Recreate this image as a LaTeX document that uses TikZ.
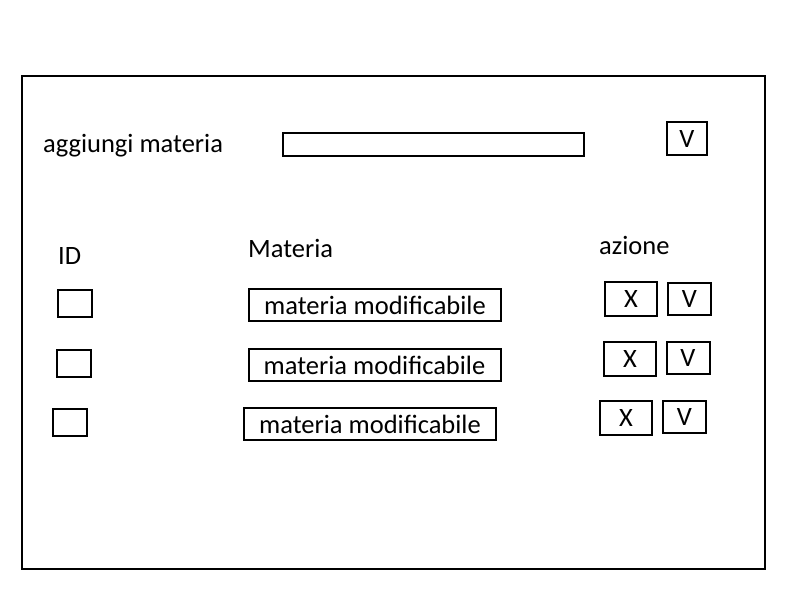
\documentclass[tikz,border=0pt]{standalone}
\usepackage{fontspec}
\setmainfont{Carlito}
\begin{document}
\begin{tikzpicture}
    [
        x=1pt, y=-1pt,
        every node/.style={font=\fontsize{26.5}{30}\selectfont},
        box/.style={rectangle, draw, line width=2pt, inner sep=0pt},
        idbox/.style={box, minimum width=34pt, minimum height=27pt},
        matbox/.style={box, minimum width=252pt, minimum height=32pt},
        xbox/.style={box, minimum width=52pt, minimum height=34pt},
        vbox/.style={box, minimum width=43pt, minimum height=32pt},
        label/.style={anchor=base west, inner sep=0pt},
    ]
    \useasboundingbox (0,0) rectangle (800,600);
    \node (frame) at (393.5, 322.5) [
        box,
        minimum width=743pt,
        minimum height=493pt,
    ] {};

    \node (add) at (43,152) [label] {aggiungi materia};
    \node (field) at (433.5,144.5) [box, minimum width=301pt, minimum height=23pt] {};
    \node (ok) at (687,138.5) [box, minimum width=40pt, minimum height=33pt] {V};

    \node (hid) at (58,264) [label] {ID};
    \node (hmat) at (248,257) [label] {Materia};
    \node (hact) at (599,254) [label] {azione};

    \node (id1) at (75,303.5) [idbox] {};
    \node (id2) at (74,363.5) [idbox] {};
    \node (id3) at (70,422.5) [idbox] {};

    \node (mat1) at (375,305) [matbox] {materia modificabile};
    \node (mat2) at (374.5,365) [matbox] {materia modificabile};
    \node (mat3) at (370,424) [matbox] {materia modificabile};

    \node (x1) at (631,299) [xbox] {X};
    \node (x2) at (630,359) [xbox] {X};
    \node (x3) at (626,418) [xbox] {X};

    \node (v1) at (689.5,298.5) [vbox] {V};
    \node (v2) at (688,358) [vbox] {V};
    \node (v3) at (684.5,417) [vbox] {V};
\end{tikzpicture}
\end{document}
